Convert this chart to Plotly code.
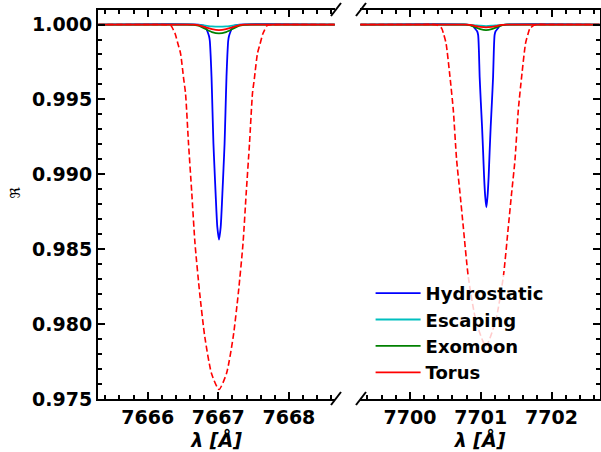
import plotly.graph_objects as go

# ---------------- data ----------------
L_RANGE = [7665.296, 7668.653]
R_RANGE = [7699.295, 7702.685]

HYD_L_X = [7665.30, 7666.71, 7666.81, 7666.845, 7666.87, 7666.88, 7666.892, 7666.904, 7666.918,
           7666.931, 7666.946, 7666.962, 7666.986, 7667.01, 7667.034, 7667.058, 7667.074,
           7667.089, 7667.102, 7667.116, 7667.128, 7667.14, 7667.15, 7667.175, 7667.21,
           7667.31, 7668.65]
HYD_L_Y = [1.0, 1.0, 0.99990, 0.99955, 0.99920, 0.99890, 0.99790, 0.99651, 0.99420,
           0.99206, 0.99040, 0.98872, 0.98649, 0.98565, 0.98649, 0.98872, 0.99040,
           0.99206, 0.99420, 0.99651, 0.99790, 0.99890, 0.99920, 0.99955, 0.99990,
           1.0, 1.0]

HYD_R_X = [7699.30, 7700.80, 7700.89, 7700.916, 7700.95, 7700.964, 7700.975, 7700.985,
           7701.002, 7701.019, 7701.034, 7701.048, 7701.064, 7701.08, 7701.096, 7701.112,
           7701.126, 7701.141, 7701.158, 7701.175, 7701.185, 7701.196, 7701.21, 7701.244,
           7701.27, 7701.36, 7702.68]
HYD_R_Y = [1.0, 1.0, 0.99993, 0.99975, 0.99955, 0.99930, 0.99820, 0.99651,
           0.99480, 0.99317, 0.99150, 0.98983, 0.98850, 0.98779, 0.98850, 0.98983,
           0.99150, 0.99317, 0.99480, 0.99651, 0.99820, 0.99930, 0.99955, 0.99975,
           0.99993, 1.0, 1.0]

SMALL_L_X = [7665.30, 7666.56, 7666.65, 7666.73, 7666.82, 7666.91, 7667.01,
             7667.11, 7667.20, 7667.29, 7667.37, 7667.46, 7668.65]
ESC_L_Y = [1.0, 1.0, 1.0, 0.99998, 0.99993, 0.99988, 0.99986,
           0.99988, 0.99993, 0.99998, 1.0, 1.0, 1.0]
MOON_L_Y = [1.0, 1.0, 0.99998, 0.99991, 0.99970, 0.99950, 0.99941,
            0.99950, 0.99970, 0.99991, 0.99998, 1.0, 1.0]
TOR_L_Y = [1.0, 1.0, 0.99999, 0.99994, 0.99981, 0.99969, 0.99963,
           0.99969, 0.99981, 0.99994, 0.99999, 1.0, 1.0]

SMALL_R_X = [7699.30, 7700.715, 7700.785, 7700.855, 7700.925, 7700.995, 7701.075,
             7701.155, 7701.225, 7701.295, 7701.365, 7701.435, 7702.68]
ESC_R_Y = [1.0, 1.0, 1.0, 0.99998, 0.99995, 0.99992, 0.99990,
           0.99992, 0.99995, 0.99998, 1.0, 1.0, 1.0]
MOON_R_Y = [1.0, 1.0, 0.99999, 0.99994, 0.99981, 0.99969, 0.99963,
            0.99969, 0.99981, 0.99994, 0.99999, 1.0, 1.0]
TOR_R_Y = [1.0, 1.0, 0.99999, 0.99997, 0.99990, 0.99984, 0.99981,
           0.99984, 0.99990, 0.99997, 0.99999, 1.0, 1.0]

TORD_L_X = [7665.30, 7666.11, 7666.26, 7666.33, 7666.365, 7666.39, 7666.43, 7666.465,
            7666.51, 7666.536, 7666.578, 7666.625, 7666.67, 7666.737, 7666.809, 7666.904,
            7667.01,
            7667.116, 7667.211, 7667.283, 7667.35, 7667.395, 7667.442, 7667.484, 7667.51,
            7667.555, 7667.59, 7667.63, 7667.655, 7667.69, 7667.76, 7667.91, 7668.65]
TORD_L_Y = [1.0, 1.0, 0.99999, 0.99993, 0.99963, 0.99937, 0.99868, 0.99808,
            0.99636, 0.99540, 0.99206, 0.98872, 0.98538, 0.98204, 0.97914, 0.97670,
            0.97563,
            0.97670, 0.97914, 0.98204, 0.98538, 0.98872, 0.99206, 0.99540, 0.99636,
            0.99808, 0.99868, 0.99937, 0.99963, 0.99993, 0.99999, 1.0, 1.0]

TORD_R_X = [7699.30, 7700.172, 7700.372, 7700.448, 7700.477, 7700.511, 7700.566, 7700.613,
            7700.66, 7700.708, 7700.754, 7700.825, 7700.931, 7701.072,
            7701.213, 7701.319, 7701.39, 7701.436, 7701.484, 7701.531, 7701.578,
            7701.633, 7701.667, 7701.696, 7701.772, 7701.972, 7702.68]
TORD_R_Y = [1.0, 1.0, 0.99999, 0.99975, 0.99935, 0.99874, 0.99651, 0.99429,
            0.99095, 0.98872, 0.98649, 0.98315, 0.98026, 0.97852,
            0.98026, 0.98315, 0.98649, 0.98872, 0.99095, 0.99429, 0.99651,
            0.99874, 0.99935, 0.99975, 0.99999, 1.0, 1.0]

NAMES = ["Hydrostatic", "Escaping", "Exomoon", "Torus"]
COLORS = ["#0000ff", "#00bfbf", "#008000", "#ff0000"]

X_TICKS_L = [7666, 7667, 7668]
X_TICKS_R = [7700, 7701, 7702]
Y_RANGE = [0.975, 1.00097]

# ---------------- figure ----------------
fig = go.Figure()
FONT = "DejaVu Sans"
LW = 1.8

series_left = [(HYD_L_X, HYD_L_Y), (SMALL_L_X, ESC_L_Y), (SMALL_L_X, MOON_L_Y), (SMALL_L_X, TOR_L_Y)]
series_right = [(HYD_R_X, HYD_R_Y), (SMALL_R_X, ESC_R_Y), (SMALL_R_X, MOON_R_Y), (SMALL_R_X, TOR_R_Y)]

for i, (name, col) in enumerate(zip(NAMES, COLORS)):
    xs, ys = series_left[i]
    fig.add_trace(go.Scatter(x=xs, y=ys, mode="lines", name=name, legendgroup=name,
                             line=dict(color=col, width=LW, shape="spline", smoothing=0.6),
                             xaxis="x", yaxis="y"))
for i, (name, col) in enumerate(zip(NAMES, COLORS)):
    xs, ys = series_right[i]
    fig.add_trace(go.Scatter(x=xs, y=ys, mode="lines", name=name, legendgroup=name, showlegend=False,
                             line=dict(color=col, width=LW, shape="spline", smoothing=0.6),
                             xaxis="x2", yaxis="y2"))

fig.add_trace(go.Scatter(x=TORD_L_X, y=TORD_L_Y, mode="lines", showlegend=False,
                         line=dict(color="#ff0000", width=1.6, dash="6px,3px", shape="spline", smoothing=0.6),
                         xaxis="x", yaxis="y"))
fig.add_trace(go.Scatter(x=TORD_R_X, y=TORD_R_Y, mode="lines", showlegend=False,
                         line=dict(color="#ff0000", width=1.6, dash="6px,3px", shape="spline", smoothing=0.6),
                         xaxis="x2", yaxis="y2"))

tickfont = dict(family=FONT, size=19, color="black", weight="bold")
minor_x = dict(ticks="inside", ticklen=4, tickwidth=1.5, dtick=0.2, tickcolor="black")
minor_y = dict(ticks="inside", ticklen=4, tickwidth=1.5, dtick=0.001, tickcolor="black")

common_x = dict(showgrid=False, zeroline=False, showline=True, linecolor="black", linewidth=2,
                mirror="ticks", ticks="inside", ticklen=7, tickwidth=1.5, tickcolor="black",
                tickfont=tickfont, minor=minor_x,
                title=dict(text="<b><i>λ [Å]</i></b>", font=dict(family=FONT, size=19, color="black"),
                           standoff=4))

fig.update_layout(
    width=601, height=452,
    margin=dict(l=98, r=1, t=10, b=53),
    paper_bgcolor="white", plot_bgcolor="white",
    xaxis=dict(domain=[0, 0.4721], range=L_RANGE, tickvals=X_TICKS_L, anchor="y", **common_x),
    xaxis2=dict(domain=[0.5219, 1.0], range=R_RANGE, tickvals=X_TICKS_R, anchor="y2", **common_x),
    yaxis=dict(range=Y_RANGE, anchor="x", showgrid=False, zeroline=False, showline=True,
               linecolor="black", linewidth=2, mirror=False, ticks="inside", ticklen=7,
               tickwidth=1.5, tickcolor="black", dtick=0.005, tick0=0.975, tickformat=".3f",
               tickfont=tickfont, minor=minor_y),
    yaxis2=dict(range=Y_RANGE, anchor="x2", side="right", showgrid=False, zeroline=False,
                showline=True, linecolor="black", linewidth=2, mirror=False, ticks="inside",
                ticklen=7, tickwidth=1.5, tickcolor="black", dtick=0.005, tick0=0.975,
                showticklabels=False, minor=minor_y),
    legend=dict(x=0.543, y=0.319, xanchor="left", yanchor="top", tracegroupgap=0,
                itemwidth=45, bgcolor="rgba(255,255,255,0.8)", borderwidth=0,
                font=dict(family=FONT, size=18, color="black", weight="bold")),
    showlegend=True,
)

# broken-axis slash marks
for xref, yref, xa in [("x domain", "y domain", 1), ("x2 domain", "y2 domain", 0)]:
    for ya in [0, 1]:
        fig.add_shape(type="line", xref=xref, yref=yref, xsizemode="pixel", ysizemode="pixel",
                      xanchor=xa, yanchor=ya, x0=-4, x1=6, y0=-6, y1=7,
                      line=dict(color="black", width=2))

fig.add_annotation(text="ℜ", xref="paper", yref="paper", x=-0.165, y=0.532,
                   showarrow=False, textangle=-90, font=dict(family=FONT, size=14, color="black"),
                   xanchor="center", yanchor="middle")

fig.write_html("out.html")
